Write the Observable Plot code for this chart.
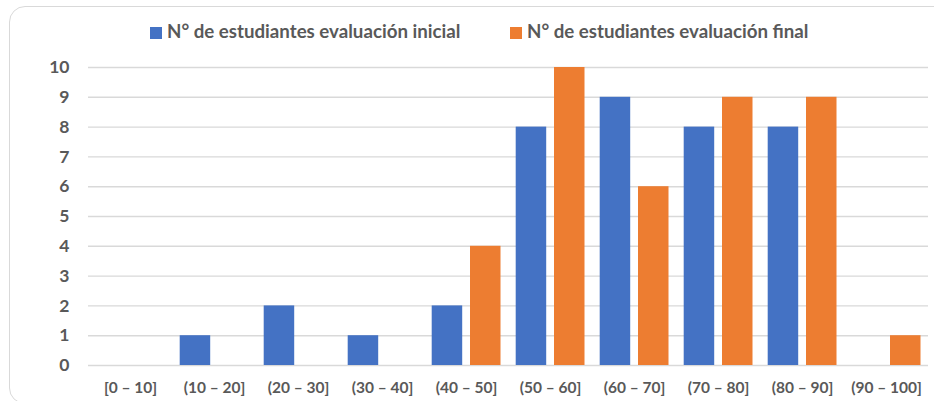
<!DOCTYPE html>
<html>
<head>
<meta charset="utf-8">
<script src="https://cdn.jsdelivr.net/npm/d3@7"></script>
<script src="https://cdn.jsdelivr.net/npm/@observablehq/plot@0.6"></script>
<style>
  html, body { margin: 0; padding: 0; background: #fff; }
  #wrap { position: relative; width: 934px; height: 401px; overflow: hidden; }
  #frame { position: absolute; left: 9px; top: 6px; width: 950px; height: 398px;
           border: 1.3px solid #d9d9d9; border-radius: 16px; box-sizing: border-box; }
  #legend { position: absolute; top: 18px; left: 0; width: 934px; height: 26px;
            font-family: Lato, sans-serif; font-weight: bold; font-size: 18.7px; color: #595959; }
  .item { position: absolute; top: 0; white-space: nowrap; line-height: 26px; }
  .sw { display: inline-block; width: 12px; height: 12px; margin-right: 5px; vertical-align: -0.5px; }
  #chart { position: absolute; left: 0; top: 0; }
</style>
</head>
<body>
<div id="wrap">
  <div id="frame"></div>
  <div id="chart"></div>
  <div id="legend"></div>
</div>
<script>
const categories = ["[0 – 10]", "(10 – 20]", "(20 – 30]", "(30 – 40]", "(40 – 50]", "(50 – 60]", "(60 – 70]", "(70 – 80]", "(80 – 90]", "(90 – 100]"];
const series = ["N° de estudiantes evaluación inicial", "N° de estudiantes evaluación final"];
const inicial = [0, 1, 2, 1, 2, 8, 9, 8, 8, 0];
const final = [0, 0, 0, 0, 4, 10, 6, 9, 9, 1];
const yTicks = [0, 1, 2, 3, 4, 5, 6, 7, 8, 9, 10];
const colors = ["#4472C4", "#ED7D31"];

const dataIni = categories.map((c, i) => ({cat: c, serie: series[0], value: inicial[i]}));
const dataFin = categories.map((c, i) => ({cat: c, serie: series[1], value: final[i]}));

const W = 934, H = 401, mL = 88, mR = 6;
const step = (W - mL - mR) / categories.length;
const outer = 7.7, barW = 30.5, gap = 7.8;

const plot = Plot.plot({
  width: W, height: H,
  marginLeft: mL, marginRight: mR, marginTop: 67, marginBottom: 36,
  style: {fontFamily: "Lato, sans-serif", fontWeight: "bold", color: "#595959", background: "transparent"},
  x: {domain: categories, padding: 0, label: null},
  y: {domain: [0, 10], ticks: yTicks, label: null},
  color: {domain: series, range: colors},
  marks: [
    Plot.ruleY(yTicks, {stroke: "#d9d9d9", strokeWidth: 1.4}),
    Plot.barY(dataIni, {x: "cat", y: "value", fill: "serie", insetLeft: outer, insetRight: step - outer - barW}),
    Plot.barY(dataFin, {x: "cat", y: "value", fill: "serie", insetLeft: outer + barW + gap, insetRight: step - outer - 2 * barW - gap}),
    Plot.axisY({ticks: yTicks, tickSize: 0, tickPadding: 19, fontSize: 17.5, fontWeight: "bold", label: null}),
    Plot.axisX({tickSize: 0, tickPadding: 16, fontSize: 15.5, fontWeight: "bold", label: null})
  ]
});
document.getElementById("chart").appendChild(plot);

const legend = document.getElementById("legend");
const lefts = [150, 510];
series.forEach((s, i) => {
  const d = document.createElement("div");
  d.className = "item";
  d.style.left = lefts[i] + "px";
  const sw = document.createElement("span");
  sw.className = "sw";
  sw.style.background = colors[i];
  d.appendChild(sw);
  d.appendChild(document.createTextNode(s));
  legend.appendChild(d);
});
</script>
</body>
</html>
